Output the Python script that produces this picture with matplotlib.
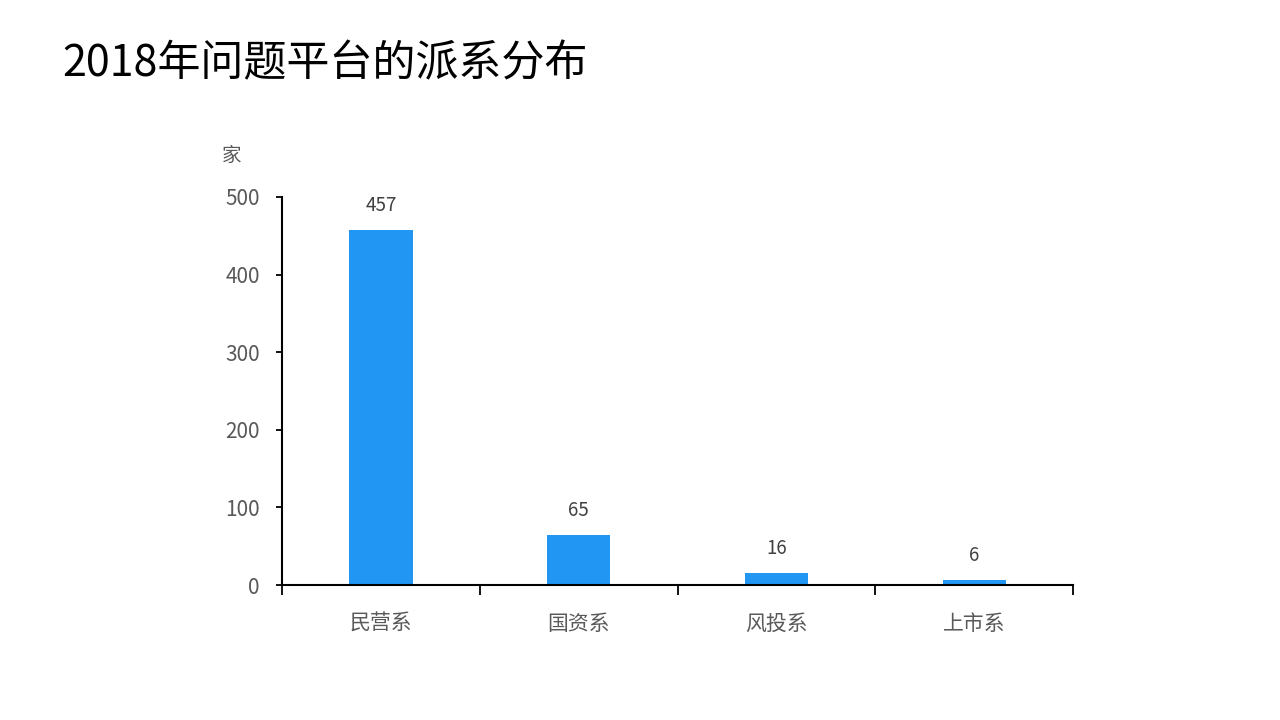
import matplotlib.pyplot as plt
import numpy as np

plt.rcParams['font.family'] = ['Noto Sans CJK SC', 'DejaVu Sans']

# 数据
categories = ['民营系', '国资系', '风投系', '上市系']
counts = [457, 65, 16, 6]
title = '2018年问题平台的派系分布'
y_ticks = [0, 100, 200, 300, 400, 500]

bar_color = '#2196F3'
text_gray = '#595959'

fig = plt.figure(figsize=(12.8, 7.2), dpi=100)
ax = fig.add_axes([0.2203, 0.1875, 0.618, 0.539])

x = np.arange(len(categories))
bars = ax.bar(x, counts, width=0.32, color=bar_color)

# 数值标签
for xi, v in zip(x, counts):
    ax.annotate(str(v), (xi, v), xytext=(0, 10), textcoords='offset points',
                ha='center', va='bottom', fontsize=13.5, color='#404040')

ax.set_xlim(-0.5, len(categories) - 0.5)
ax.set_ylim(0, 500)
ax.set_yticks(y_ticks)
ax.set_xticks(x)
ax.set_xticklabels(categories)
ax.set_xticks(np.arange(-0.5, len(categories)), minor=True)

ax.tick_params(axis='x', which='major', length=0, pad=20, labelsize=15, labelcolor=text_gray)
ax.tick_params(axis='x', which='minor', length=7, width=1.3, direction='out', color='black')
ax.tick_params(axis='y', length=4, width=1.3, pad=12, labelsize=15, labelcolor=text_gray)

for s in ['top', 'right']:
    ax.spines[s].set_visible(False)
for s in ['left', 'bottom']:
    ax.spines[s].set_linewidth(1.5)
    ax.spines[s].set_color('black')

# 单位
fig.text(232 / 1280, 1 - 155 / 720, '家', fontsize=14, color=text_gray, ha='center', va='center')

# 标题
fig.text(62 / 1280, 1 - 64 / 720, title, fontsize=31, color='black', ha='left', va='center')

fig.savefig('out.png', dpi=100)
